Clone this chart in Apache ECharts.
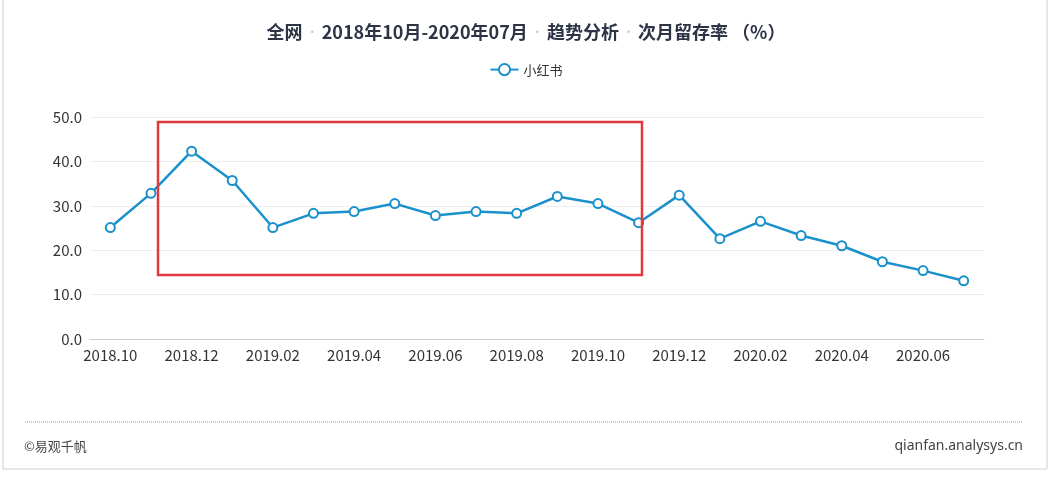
<!DOCTYPE html>
<html>
<head>
<meta charset="utf-8">
<script src="https://cdn.jsdelivr.net/npm/echarts@6/dist/echarts.min.js"></script>
<style>
html,body{margin:0;padding:0;background:#fff;}
#c{width:1052px;height:478px;}
</style>
</head>
<body>
<div id="c"></div>
<script>
const categories = ['2018.10','2018.11','2018.12','2019.01','2019.02','2019.03','2019.04','2019.05','2019.06','2019.07','2019.08','2019.09','2019.10','2019.11','2019.12','2020.01','2020.02','2020.03','2020.04','2020.05','2020.06','2020.07'];
const seriesName = '小红书';
const values = [25.1,32.8,42.3,35.7,25.1,28.3,28.7,30.5,27.8,28.7,28.3,32.1,30.5,26.2,32.4,22.6,26.5,23.3,21.0,17.4,15.4,13.1];
const yTicks = [0,10,20,30,40,50];
const titleParts = ['全网','2018年10月-2020年07月','趋势分析','次月留存率 （%）'];

const chart = echarts.init(document.getElementById('c'), null, {renderer:'canvas'});
const font = '"Microsoft YaHei","Noto Sans CJK SC","Noto Sans",sans-serif';
const titleText = titleParts.map(p => '{t|' + p + '}').join('{d|  •  }');

chart.setOption({
  animation:false,
  backgroundColor:'#fff',
  title:{
    text:titleText,
    left:'center', top:18,
    textStyle:{
      rich:{
        t:{fontSize:18,fontWeight:'bold',color:'#2c3445',fontFamily:font},
        d:{fontSize:10,color:'#c8ccd2',fontFamily:font}
      }
    }
  },
  legend:{
    top:58, left:'center',
    itemWidth:28, itemHeight:14,
    textStyle:{fontSize:13,color:'#333',fontFamily:font},
    data:[seriesName]
  },
  grid:{left:90,right:68,top:117,bottom:139,containLabel:false},
  xAxis:{
    type:'category',
    data:categories,
    boundaryGap:true,
    axisLine:{lineStyle:{color:'#ccc'}},
    axisTick:{interval:1,lineStyle:{color:'#ccc'}},
    axisLabel:{interval:1,color:'#333',fontSize:15,margin:9,fontFamily:font}
  },
  yAxis:{
    type:'value',
    min:yTicks[0], max:yTicks[yTicks.length-1], interval:10,
    axisLine:{show:false}, axisTick:{show:false},
    axisLabel:{formatter:v=>v.toFixed(1),color:'#333',fontSize:15,margin:8,fontFamily:font},
    splitLine:{lineStyle:{color:'#eeeeee'}}
  },
  series:[{
    name:seriesName,
    type:'line',
    data:values,
    symbol:'emptyCircle',
    symbolSize:9,
    lineStyle:{width:2.5,color:'#1a91cc'},
    itemStyle:{color:'#1a91cc',borderWidth:2},
    z:3
  }],
  graphic:[
    {type:'rect',shape:{x:3,y:-2,width:1044,height:471},style:{fill:'none',stroke:'#cfcfcf',lineWidth:1},z:-1,silent:true},
    {type:'rect',shape:{x:158,y:122,width:484,height:153},style:{fill:'none',stroke:'#e0393e',lineWidth:2.5},z:10,silent:true},
    {type:'line',shape:{x1:25,y1:422,x2:1022,y2:422},style:{stroke:'#999',lineWidth:1,lineDash:[1,1]},silent:true},
    {type:'text',left:24,top:440,style:{text:'©易观千帆',fill:'#444',font:'13px '+font},silent:true},
    {type:'text',right:29,top:439,style:{text:'qianfan.analysys.cn',fill:'#444',font:'14px "Microsoft YaHei","Noto Sans",sans-serif'},silent:true}
  ]
});
</script>
</body>
</html>
